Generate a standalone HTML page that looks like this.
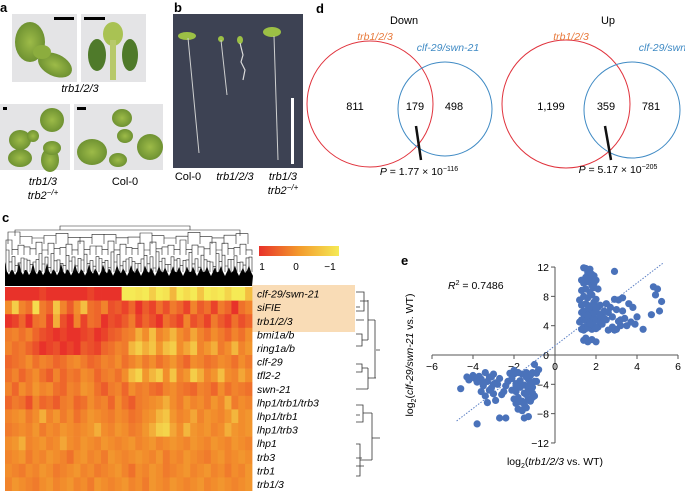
<!DOCTYPE html>
<html><head><meta charset="utf-8">
<style>
html,body{margin:0;padding:0;background:#fff;}
body{width:685px;height:491px;overflow:hidden;position:relative;font-family:"Liberation Sans",sans-serif;}
svg{position:absolute;left:0;top:0;}
text{font-family:"Liberation Sans",sans-serif;}
.it{font-style:italic;}
</style></head>
<body>
<svg id="fig" width="685" height="491" viewBox="0 0 685 491" xmlns="http://www.w3.org/2000/svg">
<defs>
<linearGradient id="cbar" x1="0" x2="1" y1="0" y2="0">
<stop offset="0" stop-color="#e8322a"/><stop offset="0.5" stop-color="#f39a2c"/><stop offset="1" stop-color="#f5ea55"/>
</linearGradient>
<radialGradient id="leaf" cx="0.5" cy="0.5" r="0.5"><stop offset="0" stop-color="#9dbb48"/><stop offset="1" stop-color="#6f9232"/></radialGradient>
</defs>

<g>
<text x="0" y="12" font-weight="bold" font-size="13">a</text>
<rect x="12" y="14" width="65" height="68" fill="#e4e4e6"/>
<ellipse cx="30" cy="42" rx="15" ry="20" fill="url(#leaf)"/><ellipse cx="55" cy="65" rx="18" ry="11" fill="url(#leaf)" transform="rotate(25 55 65)"/><ellipse cx="42" cy="52" rx="9" ry="7" fill="#8cad3e"/>
<rect x="54" y="17" width="20" height="3" fill="#000"/>
<rect x="81" y="14" width="65" height="68" fill="#e4e4e6"/>
<ellipse cx="113" cy="34" rx="10" ry="12" fill="#a9c253"/><ellipse cx="97" cy="55" rx="9" ry="16" fill="#4f7a2a"/><ellipse cx="130" cy="55" rx="8" ry="16" fill="#4f7a2a"/><rect x="110" y="40" width="6" height="40" fill="#b7c96a"/>
<rect x="84" y="17" width="21" height="3" fill="#000"/>
<text x="80" y="92" font-size="11" text-anchor="middle" class="it">trb1/2/3</text>
<rect x="0" y="104" width="70" height="66" fill="#e4e4e6"/>
<ellipse cx="52" cy="120" rx="12" ry="12" fill="url(#leaf)"/><ellipse cx="20" cy="140" rx="11" ry="10" fill="url(#leaf)"/><ellipse cx="20" cy="158" rx="12" ry="9" fill="url(#leaf)"/><ellipse cx="50" cy="160" rx="9" ry="12" fill="url(#leaf)"/><ellipse cx="52" cy="148" rx="9" ry="7" fill="url(#leaf)"/><ellipse cx="33" cy="136" rx="6" ry="6" fill="url(#leaf)"/>
<rect x="3" y="107" width="4" height="3" fill="#000"/>
<rect x="74" y="104" width="89" height="66" fill="#e4e4e6"/>
<ellipse cx="122" cy="118" rx="10" ry="9" fill="url(#leaf)"/><ellipse cx="92" cy="152" rx="15" ry="13" fill="url(#leaf)"/><ellipse cx="150" cy="147" rx="13" ry="13" fill="url(#leaf)"/><ellipse cx="118" cy="160" rx="9" ry="7" fill="url(#leaf)"/><ellipse cx="125" cy="136" rx="8" ry="7" fill="url(#leaf)"/>
<rect x="77" y="107" width="9" height="3" fill="#000"/>
<text x="43" y="185" font-size="11" text-anchor="middle" class="it">trb1/3</text>
<text x="43" y="199" font-size="11" text-anchor="middle" class="it">trb2<tspan font-size="8" dy="-4">−/+</tspan></text>
<text x="125" y="185" font-size="11" text-anchor="middle">Col-0</text>
</g>

<g>
<text x="174" y="12" font-weight="bold" font-size="13">b</text>
<rect x="173" y="14" width="130" height="154" fill="#3d4253"/>
<ellipse cx="187" cy="36" rx="9" ry="4" fill="#9cc045"/><line x1="188" y1="38" x2="199" y2="153" stroke="#cfd0d0" stroke-width="1"/>
<ellipse cx="221" cy="39" rx="3" ry="3" fill="#9cc045"/><line x1="221" y1="40" x2="227" y2="95" stroke="#cfd0d0" stroke-width="1"/>
<ellipse cx="240" cy="40" rx="3" ry="4" fill="#9cc045"/><polyline points="240,43 243,55 241,62 245,70 243,80" fill="none" stroke="#dadada" stroke-width="1.2"/>
<ellipse cx="272" cy="32" rx="9" ry="5" fill="#9cc045"/><line x1="274" y1="36" x2="278" y2="160" stroke="#cfd0d0" stroke-width="1"/>
<rect x="291" y="98" width="3" height="66" fill="#fff"/>
<text x="188" y="180" font-size="11" text-anchor="middle">Col-0</text>
<text x="235" y="180" font-size="11" text-anchor="middle" class="it">trb1/2/3</text>
<text x="283" y="180" font-size="11" text-anchor="middle" class="it">trb1/3</text>
<text x="283" y="194" font-size="11" text-anchor="middle" class="it">trb2<tspan font-size="8" dy="-4">−/+</tspan></text>
</g>

<g id="panelC">
<text x="2" y="222" font-weight="bold" font-size="13">c</text>
<rect x="252" y="285" width="103" height="47" fill="#f9dcb6"/>
<rect x="259" y="246" width="80" height="10" fill="url(#cbar)"/>
<text x="262" y="270" font-size="10" text-anchor="middle">1</text>
<text x="296" y="270" font-size="10" text-anchor="middle">0</text>
<text x="330" y="270" font-size="10" text-anchor="middle">−1</text>
<g id="heat"></g>
<g id="topDendro"></g>
<g id="rowLabels"></g>
<g fill="none" stroke="#333" stroke-width="0.8">
<path d="M356,292 H364 V311 H356 M360,301 H368 V300 M356,307 H360 M356,320 H364 M356,334 H362 V346 H356 M362,340 H368 M356,364 H362 V372 H356 M362,368 H368 M356,389 H368 M356,405 H363 V422 H356 M356,415 H360 M363,413 H372 M356,444 H360 V476 H356 M356,458 H362 M356,466 H364 M360,460 H372 M368,300 V340 M368,320 H375 M368,368 V389 M368,378 H376 M372,413 V460 M372,438 H380 M375,320 V378 M376,350 H380"/>
</g>
</g>

<g>
<text x="316" y="13" font-weight="bold" font-size="13">d</text>
<text x="404" y="24" font-size="11" text-anchor="middle">Down</text>
<circle cx="370" cy="104" r="63" fill="none" stroke="#e0323c" stroke-width="1"/>
<circle cx="445" cy="109" r="47" fill="none" stroke="#3f8ac4" stroke-width="1"/>
<text x="375" y="40" font-size="10.5" text-anchor="middle" class="it" fill="#e87a3c">trb1/2/3</text>
<text x="448" y="51" font-size="10.5" text-anchor="middle" class="it" fill="#3f8ac4">clf-29/swn-21</text>
<text x="355" y="110" font-size="11" text-anchor="middle">811</text>
<text x="415" y="110" font-size="11" text-anchor="middle">179</text>
<text x="454" y="110" font-size="11" text-anchor="middle">498</text>
<line x1="416" y1="126" x2="421" y2="160" stroke="#111" stroke-width="2.5"/>
<text x="419" y="175" font-size="10.5" text-anchor="middle"><tspan class="it">P</tspan> = 1.77 × 10<tspan font-size="7" dy="-4">−116</tspan></text>
<text x="608" y="24" font-size="11" text-anchor="middle">Up</text>
<circle cx="566" cy="104" r="64" fill="none" stroke="#e0323c" stroke-width="1"/>
<circle cx="632" cy="110" r="48" fill="none" stroke="#3f8ac4" stroke-width="1"/>
<text x="571" y="40" font-size="10.5" text-anchor="middle" class="it" fill="#e87a3c">trb1/2/3</text>
<text x="670" y="51" font-size="10.5" text-anchor="middle" class="it" fill="#3f8ac4">clf-29/swn-21</text>
<text x="551" y="110" font-size="11" text-anchor="middle">1,199</text>
<text x="606" y="110" font-size="11" text-anchor="middle">359</text>
<text x="651" y="110" font-size="11" text-anchor="middle">781</text>
<line x1="605" y1="126" x2="611" y2="160" stroke="#111" stroke-width="2.5"/>
<text x="618" y="173" font-size="10.5" text-anchor="middle"><tspan class="it">P</tspan> = 5.17 × 10<tspan font-size="7" dy="-4">−205</tspan></text>
</g>

<g id="panelE">
<text x="401" y="265" font-weight="bold" font-size="13">e</text>
<text x="448" y="289" font-size="10.5"><tspan class="it">R</tspan><tspan font-size="7" dy="-4">2</tspan><tspan dy="4"> = 0.7486</tspan></text>
<g id="axes"></g>
<g id="pts"></g>
<text x="555" y="465" font-size="10.5" text-anchor="middle">log<tspan font-size="7" dy="3">2</tspan><tspan dy="-3">(</tspan><tspan class="it">trb1/2/3</tspan> vs. WT)</text>
<text transform="translate(413,355) rotate(-90)" font-size="10.5" text-anchor="middle">log<tspan font-size="7" dy="3">2</tspan><tspan dy="-3">(</tspan><tspan class="it">clf-29/swn-21</tspan> vs. WT)</text>
</g>
</svg>
<script>
const rowNames = ["clf-29/swn-21","siFIE","trb1/2/3","bmi1a/b","ring1a/b","clf-29","tfl2-2","swn-21","lhp1/trb1/trb3","lhp1/trb1","lhp1/trb3","lhp1","trb3","trb1","trb1/3"];
const heatRows = [
[1,1,1,1,1,.9,1,1,1,1,1,1,.9,1,1,1,1,-1,-1,-.9,-1,-.6,-1,-.9,-.3,-1,-.8,-1,-.5,-1,-.9,-1,-.7,-1,-1,-.4],
[.2,-.6,.3,.5,-.8,.4,.6,-.5,.3,.7,.2,-.4,.5,.6,.3,.8,.7,.9,.6,1,.7,.9,.5,.8,.4,.6,.9,.3,.7,.5,.9,.4,.6,1,.5,.3],
[1,.9,.6,1,.5,.4,.9,-.2,.8,1,.3,.9,.5,.6,1,.8,.9,.7,.4,.9,.6,.8,1,.5,.7,.9,.3,.8,.6,.9,.4,.7,.9,.5,.8,.6],
[.4,.3,.5,.3,.6,.8,.9,1,.9,1,1,.9,.8,1,.9,.7,.6,.4,.3,-.2,.2,-.4,.3,.1,-.3,.2,.4,-.1,.3,.5,.2,.4,.6,.3,.5,.2],
[.3,.5,.4,.6,.8,1,.9,.8,1,.9,1,.7,.8,.9,.6,.5,.3,.4,-.3,-.6,-.2,-.5,.1,-.4,-.6,.2,-.1,-.5,.3,.1,-.2,.4,.2,-.3,.3,.1],
[.6,.5,.4,.2,.5,.3,.4,.6,.5,.3,.2,.4,.6,.5,.3,.4,.2,.5,.3,.1,.4,.2,.5,.3,.1,.4,.6,.2,.3,.5,.4,.2,.3,.5,.2,.4],
[.5,.3,.6,.4,.2,.5,.7,.3,.6,.4,.5,.2,.3,.6,.4,.3,.5,.2,-.4,-.7,.1,-.3,-.6,.2,-.5,.3,.1,-.6,-.2,.3,.1,-.4,.2,.3,-.1,.2],
[.3,.6,.2,.4,.1,.3,.2,.5,.6,.3,.4,.1,.2,.5,.7,.4,.3,.6,.2,.4,.3,.5,.6,.3,.2,.4,.5,.6,.3,.4,.6,.2,.5,.3,.4,.5],
[.6,.4,.5,.8,.3,.6,.5,.7,.4,.3,.6,.5,.2,.4,.3,.6,.2,.5,.7,.4,.3,.2,.1,-.2,.2,.4,.1,.3,.2,.4,.1,.3,-.2,.4,.2,.3],
[.3,.2,.1,.4,.2,-.2,.3,.1,.4,.2,.5,.3,.1,.2,.3,.4,.2,.3,.5,.4,.2,.1,-.3,-.5,.1,.3,.2,-.1,.3,.1,.2,.3,.1,-.3,.2,.1],
[.4,.3,.2,.3,.1,.4,.2,.3,.1,.2,.3,.2,.1,-.2,.2,.3,.1,.2,.4,.3,.1,-.2,-.6,-.7,-.1,.2,-.3,.1,.2,.1,.3,.2,-.2,.1,.2,.1],
[.2,.1,-.2,.3,.2,.1,.3,.2,-.1,.2,.3,.1,.2,.3,.1,.2,.3,.2,.1,.3,.2,.1,.3,.2,.1,.2,.3,.1,.2,.3,.1,.2,.3,.1,.2,.3],
[.3,.2,.1,.4,.2,.3,.1,.2,.3,.5,.2,.1,.3,.2,.4,.1,.2,.3,.2,.1,.2,.3,.1,.4,.2,.3,.1,.2,.3,.4,.2,.1,.3,.2,.1,.2],
[.2,.3,.4,.2,.3,.1,.2,.4,.3,.2,.1,.3,.2,.4,.3,.2,.1,.3,.5,.2,.3,.1,.2,.4,.3,.2,.1,.3,.2,.1,.3,.2,.4,.2,.3,.1],
[.3,.1,.2,.3,.4,.2,.1,.3,.2,.1,.3,.2,.4,.1,.2,.3,.2,.1,.3,.2,.4,.1,.2,.3,.1,.2,.3,.2,.1,.3,.2,.1,.2,.3,.2,.1]
];
const xTicks = [-6,-4,-2,0,2,4,6];
const yTicks = [-12,-8,-4,0,4,8,12];
const upX = [1.3,1.4,1.5,1.6,1.7,1.8,1.9,2.0,2.1,1.2,1.3,1.4,1.5,1.6,1.7,1.8,1.9,2.0,1.3,1.4,1.5,1.6,1.7,1.8,1.9,2.0,2.2,1.3,1.5,1.7,1.9,2.1,1.2,1.4,1.6,1.8,2.0,1.3,1.5,1.7,1.9,1.4,1.6,1.8,2.0,1.5,1.7,1.9,1.6,1.8,1.7,1.5,1.3,1.4,1.6,1.9,2.1,1.5,1.6,1.8,1.7,2.2,2.3,2.4,2.5,2.6,2.7,2.8,2.9,3.0,3.1,3.2,3.3,3.4,3.6,3.7,3.8,3.9,4.0,4.3,4.7,4.8,5.0,5.1,5.2,4.9,2.6,2.9,3.2,3.5,2.4,2.2,3.0,3.3,2.0,1.4,1.5,1.9,2.9,1.4,1.6,1.7,2.0,2.3,2.5,2.2,2.8,3.1];
const upY = [3.5,3.8,3.6,3.9,3.7,3.5,4.0,3.6,3.8,4.5,4.8,5.0,4.7,4.9,5.2,4.6,5.0,4.8,5.8,6.0,5.6,6.2,5.9,6.1,5.7,6.0,5.5,6.8,7.0,6.7,7.2,6.5,7.5,8.0,7.8,8.2,7.6,8.8,9.0,8.6,9.2,9.8,10.0,9.5,10.2,10.6,10.3,10.8,11.2,11.0,11.7,11.8,10.2,11.9,11.5,9.8,9.0,2.3,1.8,2.1,4.2,4.5,5.5,6.0,4.8,5.8,6.5,5.2,3.4,6.2,7.5,4.0,7.8,5.0,7.0,4.5,6.5,4.2,5.2,3.5,5.5,9.3,9.0,6.0,7.3,8.2,3.4,7.6,4.8,4.0,5.0,6.8,3.5,6.0,1.8,2.0,10.5,10.0,11.4,3.4,5.4,4.3,6.4,4.2,7.0,5.3,3.8,4.6];
const dnX = [-4.6,-4.3,-4.2,-4.0,-3.9,-3.8,-3.7,-3.6,-3.5,-3.4,-3.3,-3.2,-3.1,-3.0,-2.9,-2.8,-2.7,-3.6,-3.4,-3.2,-3.0,-2.9,-3.3,-3.5,-3.1,-2.6,-2.4,-3.8,-2.7,-2.4,-2.2,-2.1,-2.0,-1.9,-1.8,-1.7,-1.6,-1.5,-1.4,-1.3,-1.2,-1.1,-1.0,-0.9,-2.1,-1.9,-1.7,-1.5,-1.3,-1.1,-0.9,-2.0,-1.8,-1.6,-1.4,-1.2,-1.0,-1.9,-1.7,-1.5,-1.3,-1.1,-1.8,-1.6,-1.4,-1.2,-1.5,-1.3,-1.6,-1.1,-0.8,-1.0,-2.3,-1.9,-1.4,-1.2,-2.5,-3.0,-3.6,-2.0];
const dnY = [-4.6,-3.0,-3.4,-2.8,-3.2,-3.7,-2.9,-3.5,-4.2,-2.4,-3.6,-3.0,-4.5,-2.6,-3.8,-4.0,-3.2,-5.0,-5.6,-4.8,-5.3,-6.2,-6.5,-4.0,-3.0,-5.4,-4.2,-9.4,-8.6,-8.6,-2.5,-3.2,-2.6,-3.9,-2.4,-3.5,-2.6,-4.1,-2.4,-3.3,-2.8,-2.4,-3.6,-2.5,-4.8,-5.0,-4.4,-5.2,-4.6,-4.4,-3.6,-6.0,-5.8,-6.3,-5.4,-5.0,-5.6,-6.6,-6.4,-6.7,-6.0,-5.2,-7.4,-7.5,-7.2,-6.3,-8.6,-8.4,-7.6,-5.8,-2.0,-1.3,-3.6,-4.2,-3.0,-3.8,-5.0,-4.0,-3.3,-2.1];
const fitX = [-4.8,5.3];
const fitY = [-9.0,12.6];

const NS="http://www.w3.org/2000/svg";
function mk(tag, attrs, parent){const e=document.createElementNS(NS,tag);for(const k in attrs)e.setAttribute(k,attrs[k]);parent.appendChild(e);return e;}

const heatG=document.getElementById('heat');
const hx0=5,hx1=252,hy0=287,hy1=491;
const rowH=(hy1-hy0)/heatRows.length;
function colorOf(v){let t=Math.pow((1-v)/2,0.8);const c1=[232,50,42],c2=[242,145,44],c3=[245,234,85];let a,b,u;if(t<.5){a=c1;b=c2;u=t*2;}else{a=c2;b=c3;u=(t-.5)*2;}return 'rgb('+a.map((x,i)=>Math.round(x+(b[i]-x)*u)).join(',')+')';}
heatRows.forEach((row,r)=>{
  const cw=(hx1-hx0)/row.length;
  row.forEach((v,c)=>{
    const el=mk('rect',{x:(hx0+c*cw).toFixed(2),y:(hy0+r*rowH).toFixed(2),width:(cw+0.4).toFixed(2),height:(rowH+0.3).toFixed(2),fill:colorOf(v)},heatG);
    
    
  });
});
const rl=document.getElementById('rowLabels');
rowNames.forEach((n,r)=>{
  const t=mk('text',{x:257,y:(hy0+r*rowH+rowH-3).toFixed(1),'font-size':10.5,'font-style':'italic'},rl);
  t.textContent=n;
  
  
});
const td=document.getElementById('topDendro');
let poly='5,286 ';
for(let i=0;i<=124;i++){const x=5+i*2;const h=262+10*Math.abs(Math.sin(i*0.9))+4*Math.abs(Math.sin(i*2.7));poly+=x+','+h.toFixed(1)+' ';}
poly+='252,286';
mk('polygon',{points:poly,fill:'#000'},td);
let d='';
for(let i=0;i<82;i++){const x=6+i*3;const h=250+10*Math.abs(Math.sin(i*1.7))+((i%5)*2);d+='M'+x+',272 V'+h.toFixed(1)+' H'+(x+3)+' V272 ';}
for(let i=0;i<41;i++){const x=6+i*6;const h=240+10*Math.abs(Math.sin(i*1.3));d+='M'+x+',255 V'+h.toFixed(1)+' H'+(x+6)+' V255 ';}
for(let i=0;i<20;i++){const x=8+i*12;const h=232+6*Math.abs(Math.sin(i*2.3));d+='M'+x+',244 V'+h.toFixed(1)+' H'+(x+12)+' V244 ';}
d+='M15,236 V230 H240 V236 M60,230 V226 H190 V230';
mk('path',{d:d,fill:'none',stroke:'#222','stroke-width':0.6},td);

const ex0=555,ey0=355,sx=20.5,sy=7.33;
const X=v=>ex0+v*sx, Y=v=>ey0-v*sy;
const ax=document.getElementById('axes');
mk('line',{x1:X(-6),y1:Y(0),x2:X(6),y2:Y(0),stroke:'#555','stroke-width':1},ax);
mk('line',{x1:X(0),y1:Y(-12),x2:X(0),y2:Y(12),stroke:'#555','stroke-width':1},ax);
xTicks.forEach(v=>{
  mk('line',{x1:X(v),y1:Y(0),x2:X(v),y2:Y(0)+4,stroke:'#555'},ax);
  const t=mk('text',{x:X(v),y:Y(0)+15,'font-size':10.5,'text-anchor':'middle'},ax);
  t.textContent=v<0?'\u2212'+(-v):String(v);
  
  
});
yTicks.forEach(v=>{
  mk('line',{x1:X(0)-4,y1:Y(v),x2:X(0),y2:Y(v),stroke:'#555'},ax);
  const t=mk('text',{x:X(0)-6,y:Y(v)+4,'font-size':10.5,'text-anchor':'end'},ax);
  t.textContent=v<0?'\u2212'+(-v):String(v);
  
  
});
const pts=document.getElementById('pts');
const fl=mk('line',{x1:X(fitX[0]),y1:Y(fitY[0]),x2:X(fitX[1]),y2:Y(fitY[1]),stroke:'#5b7fc4','stroke-width':1,'stroke-dasharray':'1.5,1.5'},pts);


function dots(xs,ys){xs.forEach((x,i)=>{const c=mk('circle',{cx:X(x).toFixed(1),cy:Y(ys[i]).toFixed(1),r:3.6,fill:'#4a72ba'},pts);
  
  });}
dots(upX,upY);dots(dnX,dnY);
</script>
</body></html>
